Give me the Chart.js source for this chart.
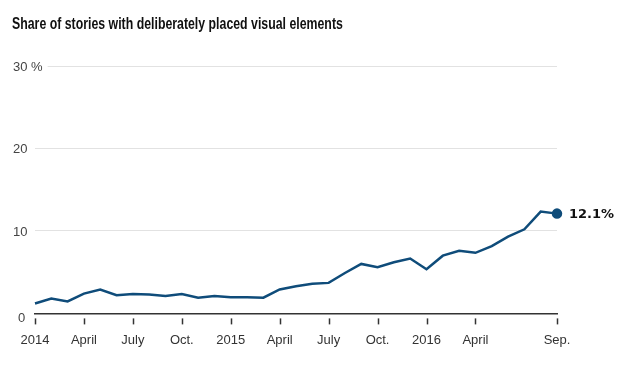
<!DOCTYPE html>
<html>
<head>
<meta charset="utf-8">
<script src="https://cdn.jsdelivr.net/npm/chart.js@4.4.0/dist/chart.umd.min.js"></script>
<style>
    body { margin: 0; background: #fff; }
    #wrap { position: relative; width: 630px; height: 365px; overflow: hidden; }
    #wrap canvas { display: block; }
    #title {
        position: absolute; left: 12px; top: 14px;
        font: bold 17px "Liberation Sans", Arial, sans-serif;
        color: #111;
        white-space: nowrap;
        transform: scaleX(0.725);
        transform-origin: left top;
    }
</style>
</head>
<body>
<div id="wrap">
    <div id="title">Share of stories with deliberately placed visual elements</div>
    <canvas id="shareChart" width="630" height="365"></canvas>
</div>
<script>
// months, Jan. 2014 - Sep. 2016
const categories = [
    '2014-01', '2014-02', '2014-03', '2014-04', '2014-05', '2014-06',
    '2014-07', '2014-08', '2014-09', '2014-10', '2014-11', '2014-12',
    '2015-01', '2015-02', '2015-03', '2015-04', '2015-05', '2015-06',
    '2015-07', '2015-08', '2015-09', '2015-10', '2015-11', '2015-12',
    '2016-01', '2016-02', '2016-03', '2016-04', '2016-05', '2016-06',
    '2016-07', '2016-08', '2016-09'
];

// share of stories (%)
const shareValues = [
    1.2, 1.8, 1.45, 2.4, 2.9, 2.2, 2.35, 2.3, 2.1, 2.35, 1.9, 2.1,
    1.95, 1.95, 1.9, 2.9, 3.3, 3.6, 3.7, 4.9, 6.0, 5.6, 6.2, 6.65,
    5.35, 7.0, 7.6, 7.35, 8.15, 9.3, 10.2, 12.35, 12.1
];

// labelled months on the x axis
const xTickMonths = ['2014-01', '2014-04', '2014-07', '2014-10', '2015-01', '2015-04',
                     '2015-07', '2015-10', '2016-01', '2016-04', '2016-09'];
const xTickText = ['2014', 'April', 'July', 'Oct.', '2015', 'April',
                   'July', 'Oct.', '2016', 'April', 'Sep.'];

// y axis
const yTickValues = [0, 10, 20, 30];
const yTickText = ['0', '10', '20', '30 %'];

const lineColor = '#0f4c7a';
const labelFont = '13px "Liberation Sans", Arial, sans-serif';

// small tick marks under the axis, with a gap
const tickMarks = {
    id: 'tickMarks',
    afterDraw(chart) {
        const ctx = chart.ctx;
        const x = chart.scales.x;
        const bottom = chart.chartArea.bottom;
        ctx.save();
        ctx.strokeStyle = '#333';
        ctx.lineWidth = 1.5;
        xTickMonths.forEach(m => {
            const px = Math.round(x.getPixelForValue(categories.indexOf(m))) + 0.5;
            ctx.beginPath();
            ctx.moveTo(px, bottom + 5);
            ctx.lineTo(px, bottom + 11);
            ctx.stroke();
        });
        ctx.restore();
    }
};

// y labels drawn at the left edge, over the grid lines
const yLabels = {
    id: 'yLabels',
    afterDraw(chart) {
        const ctx = chart.ctx;
        const y = chart.scales.y;
        ctx.save();
        ctx.font = labelFont;
        ctx.textAlign = 'left';
        ctx.textBaseline = 'middle';
        yTickValues.forEach((v, i) => {
            const py = y.getPixelForValue(v) + (v === 0 ? 5 : 1);
            const text = yTickText[i];
            const w = ctx.measureText(text).width;
            const left = v === 0 ? 18 : 13;
            ctx.fillStyle = '#fff';
            ctx.fillRect(left - 1, py - 8, w + 6, 14);
            ctx.fillStyle = '#444';
            ctx.fillText(text, left, py);
        });
        ctx.restore();
    }
};

// value label next to the last point
const endLabel = {
    id: 'endLabel',
    afterDatasetsDraw(chart) {
        const meta = chart.getDatasetMeta(0);
        const last = meta.data[meta.data.length - 1];
        const value = shareValues[shareValues.length - 1];
        const ctx = chart.ctx;
        ctx.save();
        ctx.font = 'bold 13px "DejaVu Sans", sans-serif';
        ctx.fillStyle = '#111';
        ctx.textAlign = 'left';
        ctx.textBaseline = 'middle';
        ctx.fillText(value.toFixed(1) + '%', last.x + 12, last.y + 1);
        ctx.restore();
    }
};

document.addEventListener('DOMContentLoaded', function() {
    new Chart(document.getElementById('shareChart'), {
        type: 'line',
        data: {
            labels: categories,
            datasets: [{
                data: shareValues,
                borderColor: lineColor,
                backgroundColor: lineColor,
                borderWidth: 2.5,
                tension: 0,
                pointRadius: ctx => ctx.dataIndex === shareValues.length - 1 ? 4 : 0,
                pointHoverRadius: 0
            }]
        },
        options: {
            responsive: false,
            animation: false,
            layout: { padding: { left: 35, right: 73, top: 66, bottom: -2 } },
            plugins: {
                legend: { display: false },
                tooltip: { enabled: false }
            },
            scales: {
                x: {
                    offset: false,
                    grid: { display: false, drawTicks: false },
                    border: { display: true, color: '#333', width: 1.5 },
                    ticks: {
                        autoSkip: false,
                        maxRotation: 0,
                        padding: 19,
                        color: '#333',
                        font: { family: '"Liberation Sans", Arial, sans-serif', size: 13 },
                        callback: function(value, index) {
                            const i = xTickMonths.indexOf(categories[index]);
                            return i >= 0 ? xTickText[i] : '';
                        }
                    }
                },
                y: {
                    min: 0,
                    max: 30,
                    afterFit(scale) { scale.width = 0; },
                    afterBuildTicks(scale) {
                        scale.ticks = yTickValues.map(v => ({ value: v }));
                    },
                    grid: { color: '#e2e2e2', lineWidth: 1, drawTicks: false },
                    border: { display: false },
                    ticks: { display: false }
                }
            }
        },
        plugins: [tickMarks, yLabels, endLabel]
    });
});
</script>
</body>
</html>
